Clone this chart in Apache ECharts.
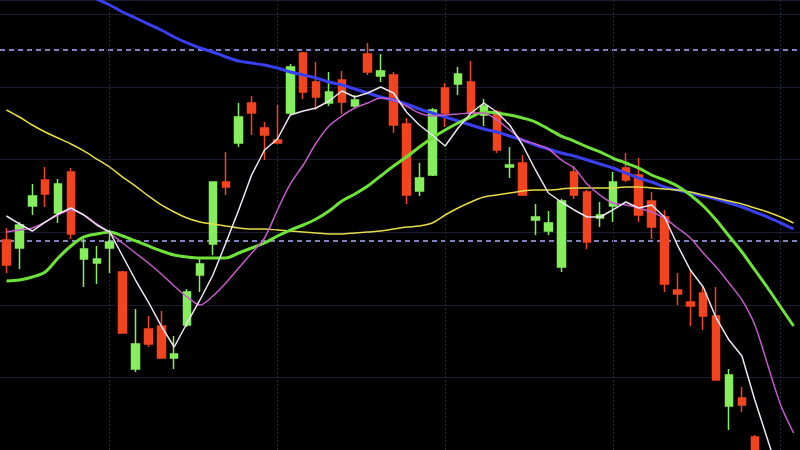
<!DOCTYPE html>
<html>
<head>
<meta charset="utf-8">
<script src="https://cdn.jsdelivr.net/npm/echarts@6/dist/echarts.min.js"></script>
<style>html,body{margin:0;padding:0;background:#000;}#c{width:800px;height:450px;}</style>
</head>
<body>
<div id="c"></div>
<script>
var categories = [];
for (var d = 1; d <= 62; d++) { categories.push('D' + d); }

// [open, close, lowest, highest]
var candles = [
[128.93,125.49,124.39,130.59],[127.83,131.00,124.94,131.41],[133.62,135.00,132.38,136.65],[137.20,135.27,133.48,138.99],
[132.65,136.65,131.28,137.34],[138.30,129.76,129.07,138.85],[126.31,127.69,122.46,129.07],[125.76,126.31,122.87,128.11],
[127.83,128.66,124.39,130.31],[124.52,116.12,116.12,124.66],[111.16,114.60,110.75,119.43],[116.67,114.60,114.19,118.46],
[117.08,112.67,112.67,119.15],[112.67,113.23,111.16,115.71],[117.22,121.77,116.95,122.18],[124.11,125.63,121.77,126.45],
[128.38,136.92,126.87,136.92],[136.92,136.24,135.13,141.06],[142.30,145.88,141.75,147.81],[147.81,146.43,143.40,148.77],
[144.36,143.40,139.96,145.19],[142.71,142.30,142.30,147.53],[146.43,152.77,146.16,153.18],[154.70,149.32,148.36,154.84],
[150.70,148.64,146.84,153.46],[147.81,149.32,147.40,152.08],[150.98,147.95,146.29,152.22],[147.40,148.22,147.12,148.91],
[154.56,152.08,151.67,156.08],[151.53,152.22,150.70,154.56],[151.67,144.78,143.68,152.08],[144.92,135.13,133.89,145.74],
[135.68,137.48,135.00,139.54],[137.89,146.84,137.75,147.12],[149.88,146.43,144.50,150.56],[150.43,151.80,148.91,152.77],
[150.70,146.43,146.43,153.60],[146.16,147.40,144.64,148.36],[146.57,141.33,140.92,146.84],[138.99,139.27,137.48,141.75],
[139.54,135.13,135.00,140.64],[131.69,132.10,129.62,133.89],[130.17,131.28,129.62,132.93],[125.21,134.31,124.52,134.58],
[138.30,135.13,134.58,139.13],[135.55,128.66,127.69,135.82],[131.96,132.38,130.72,134.17],[133.62,136.92,131.41,138.30],
[138.85,137.20,136.92,140.92],[137.89,132.38,131.41,140.23],[134.31,130.72,129.07,135.55],[132.10,122.87,121.77,133.07],
[122.04,121.49,119.98,124.39],[120.39,119.84,117.08,124.94],[121.63,118.46,116.53,122.46],[118.46,109.64,109.64,122.46],
[106.06,110.33,102.75,111.16],[107.16,106.20,105.23,108.68],[101.79,97.24,95.87,102.07],'-','-','-'
];

var ma5 = [132.24,131.14,130.17,131.41,132.52,133.34,132.38,131.00,130.04,126.73,123.42,120.39,117.08,114.19,117.50,120.67,
124.11,128.52,133.07,137.89,141.33,142.85,146.16,146.71,147.12,148.08,149.46,148.64,149.19,150.01,149.19,146.57,
144.78,143.40,141.88,144.36,146.43,147.81,146.57,144.78,142.02,138.58,135.41,134.17,133.07,132.10,132.10,133.07,
134.17,133.34,133.76,132.10,128.24,124.80,122.46,118.19,115.15,112.95,106.89,101.38,95.87,'-'];

var ma10 = [130.04,130.31,130.59,131.41,132.38,133.07,132.38,131.14,129.90,128.52,127.14,125.76,124.25,122.60,121.08,119.98,
121.22,123.01,125.07,127.14,129.21,133.07,136.65,139.27,142.30,144.64,146.02,147.12,147.81,148.50,148.22,147.40,
146.43,146.02,146.16,146.29,146.43,146.43,145.47,144.09,142.71,142.16,141.47,139.96,138.85,136.65,135.13,134.03,
133.76,133.34,132.79,131.96,130.59,129.21,127.14,125.21,123.01,120.67,117.22,111.71,106.20,102.34];

var ma20 = [123.28,123.42,123.83,124.52,126.45,128.11,129.35,129.76,130.04,129.48,128.80,128.11,127.42,126.87,126.59,126.45,
126.45,126.45,127.14,127.83,128.52,129.48,130.31,131.00,131.83,132.93,134.31,135.27,136.37,137.75,139.13,140.37,
141.75,142.99,144.09,145.05,145.88,146.57,146.43,146.16,145.74,145.19,144.23,143.26,142.57,141.75,141.06,140.23,
139.54,138.85,137.89,137.20,136.37,135.13,133.62,131.69,129.48,127.28,124.80,122.32,119.70,117.08];

var ma60 = [146.84,145.88,144.78,143.81,142.99,142.16,141.20,140.09,138.99,137.61,136.37,135.00,133.76,132.79,131.96,131.41,
131.14,130.86,130.59,130.45,130.45,130.31,130.17,130.04,129.90,129.76,129.76,129.90,130.04,130.17,130.45,130.72,
130.86,131.28,132.38,133.34,134.17,134.86,135.13,135.41,135.68,135.82,135.82,135.96,136.10,136.10,136.10,136.10,
136.24,136.24,136.10,135.96,135.82,135.55,135.13,134.72,134.31,133.89,133.34,132.79,132.10,131.28];

var ma120 = [168.06,167.10,166.27,165.44,164.62,163.79,162.96,162.14,161.31,160.35,159.52,158.69,157.87,156.90,156.08,155.39,
154.84,154.15,153.60,153.32,153.04,152.63,152.08,151.67,151.25,150.70,150.29,149.74,149.19,148.64,148.22,147.67,
146.98,146.43,145.88,145.33,144.78,144.23,143.81,143.26,142.71,142.02,141.47,140.92,140.51,139.96,139.40,138.85,
138.16,137.48,136.92,136.24,135.82,135.41,135.00,134.58,134.03,133.48,132.79,132.10,131.28,130.45];

var levelLines = [155.11, 128.80];
var verticalMarks = [8, 21, 34, 47, 60];

var chart = echarts.init(document.getElementById('c'), null, {renderer: 'canvas'});

function lineSeries(name, data, color, width, smooth, z) {
  return {
    name: name, type: 'line', data: data, symbol: 'none', smooth: smooth, z: z,
    lineStyle: {color: color, width: width}, clip: true, animation: false
  };
}

var markData = [];
levelLines.forEach(function (v) {
  markData.push({yAxis: v, lineStyle: {color: '#a9b0ff', width: 1.5, type: [5, 4]}});
});
verticalMarks.forEach(function (i) {
  markData.push({xAxis: categories[i], lineStyle: {color: '#1f2840', width: 1, type: [2, 2]}});
});

chart.setOption({
  backgroundColor: '#000000',
  animation: false,
  grid: {left: 0, right: 0, top: 0, bottom: 0},
  xAxis: {
    type: 'category', data: categories, boundaryGap: true,
    axisLine: {show: false}, axisTick: {show: false}, axisLabel: {show: false},
    splitLine: {show: false}
  },
  yAxis: {
    type: 'value', min: 100, max: 162, interval: 10, scale: true,
    axisLine: {show: false}, axisTick: {show: false}, axisLabel: {show: false},
    splitLine: {show: true, lineStyle: {color: '#181e30', width: 1}}
  },
  series: [
    {
      name: 'K', type: 'candlestick', data: candles, barWidth: 8, z: 2, clip: true,
      itemStyle: {
        color: '#86ee5e', color0: '#f2441f',
        borderColor: '#86ee5e', borderColor0: '#f2441f', borderWidth: 1.5
      },
      markLine: {
        silent: true, symbol: ['none', 'none'], label: {show: false},
        animation: false, data: markData, z: 1
      }
    },
    lineSeries('MA120', ma120, '#3b3ff2', 3, 0.3, 3),
    lineSeries('MA60', ma60, '#e6dc48', 1.5, 0.3, 3),
    lineSeries('MA20', ma20, '#6fe23a', 3, 0.3, 4),
    lineSeries('MA10', ma10, '#c45cc8', 1.5, 0.3, 5),
    lineSeries('MA5', ma5, '#ece6f2', 1.5, false, 6)
  ]
});
</script>
</body>
</html>
